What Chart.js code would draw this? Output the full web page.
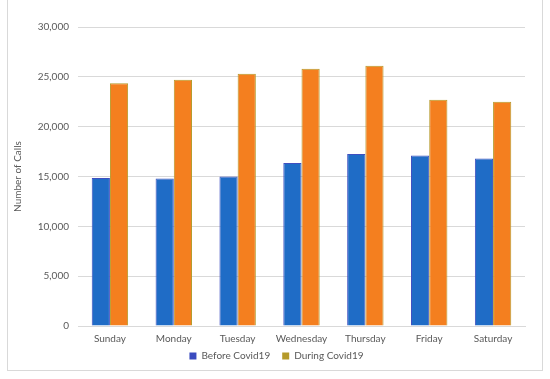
<!DOCTYPE html>
<html>
<head>
<meta charset="utf-8">
<script src="https://cdn.jsdelivr.net/npm/chart.js@4"></script>
<style>
  body { margin: 0; background: #fff; }
  #wrap { position: relative; width: 550px; height: 379px; }
  #frame { position: absolute; left: 7px; top: -1px; width: 534px; height: 370px; border: 1px solid #d9d9d9; }
  canvas { position: absolute; left: 0; top: 0; }
</style>
</head>
<body>
<div id="wrap">
  <div id="frame"></div>
  <canvas id="myChart" width="550" height="379"></canvas>
</div>
<script>
var days = ['Sunday', 'Monday', 'Tuesday', 'Wednesday', 'Thursday', 'Friday', 'Saturday'];
var beforeCovid = [14850, 14800, 15000, 16350, 17250, 17100, 16800];
var duringCovid = [24350, 24700, 25300, 25800, 26100, 22700, 22500];

document.addEventListener("DOMContentLoaded", function() {
    Chart.defaults.font.family = "Lato, 'Open Sans', sans-serif";
    Chart.defaults.font.size = 10;
    Chart.defaults.color = '#595959';

    // smaller legend box, then move it up/right to sit under the days
    var legendShift = {
        id: 'legendShift',
        beforeInit: function(chart) {
            var fit = chart.legend.fit;
            chart.legend.fit = function() {
                fit.bind(chart.legend)();
                this.height -= 5;
            };
        },
        beforeDraw: function(chart) {
            var lg = chart.legend;
            lg.top -= 13;
            lg.bottom -= 13;
            lg.left += 10;
            lg.right += 10;
        }
    };

    var ctx = document.getElementById('myChart');
    new Chart(ctx, {
        type: 'bar',
        data: {
            labels: days,
            datasets: [{
                label: 'Before Covid19',
                data: beforeCovid,
                backgroundColor: '#1f6cc6',
                borderColor: '#3f4fc0',
                borderWidth: 1
            }, {
                label: 'During Covid19',
                data: duringCovid,
                backgroundColor: '#f47f1f',
                borderColor: '#b59a2a',
                borderWidth: 1
            }]
        },
        options: {
            responsive: false,
            animation: false,
            layout: { padding: { left: 8, right: 25, top: 27, bottom: 0 } },
            datasets: {
                bar: { categoryPercentage: 0.57, barPercentage: 1 }
            },
            plugins: {
                legend: {
                    position: 'bottom',
                    labels: {
                        boxWidth: 7,
                        boxHeight: 7,
                        padding: 12,
                        generateLabels: function(chart) {
                            var marks = ['#3a4bbf', '#b59a2a'];
                            return chart.data.datasets.map(function(ds, i) {
                                return {
                                    text: ds.label,
                                    fillStyle: marks[i],
                                    strokeStyle: marks[i],
                                    lineWidth: 0,
                                    datasetIndex: i,
                                    fontColor: '#595959'
                                };
                            });
                        }
                    }
                },
                tooltip: { enabled: false }
            },
            scales: {
                x: {
                    grid: { display: false, drawTicks: false },
                    border: { color: '#d9d9d9' },
                    ticks: { padding: 7 }
                },
                y: {
                    min: 0,
                    max: 30000,
                    ticks: {
                        stepSize: 5000,
                        padding: 9,
                        callback: function(v) { return v.toLocaleString('en-US'); }
                    },
                    grid: { color: '#d9d9d9', drawTicks: false },
                    border: { display: false },
                    title: { display: true, text: 'Number of Calls', padding: 4 },
                    afterFit: function(axis) { axis.width = 70; }
                }
            }
        },
        plugins: [legendShift]
    });
});
</script>
</body>
</html>
